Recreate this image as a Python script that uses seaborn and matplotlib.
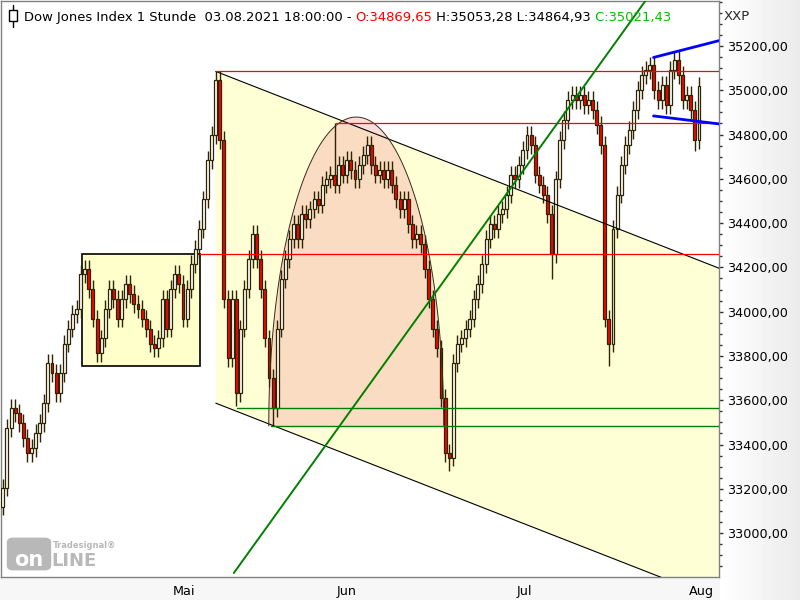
import numpy as np
import pandas as pd
import matplotlib
matplotlib.use("Agg")
import matplotlib.pyplot as plt
from matplotlib.patches import Rectangle, Polygon, FancyBboxPatch
import seaborn as sns

# ---- data (half-day closes, Dow Jones, Apr-Aug 2021) ----
first_open = 33120
closes = [
    33206, 33475, 33565, 33542, 33498, 33430, 33363, 33385, 33453, 33498,
    33587, 33767, 33722, 33632, 33722, 33856, 33924, 33991, 34013, 34170,
    34193, 34103, 33969, 33812, 33879, 34013, 34103, 34058, 33969, 34058,
    34126, 34081, 34036, 34013, 33969, 33924, 33856, 33834, 33879, 34058,
    33924, 34103, 34170, 34126, 33969, 34103, 34215, 34283, 34372, 34507,
    34686, 34799, 35045, 34776, 34058, 33789, 34058, 33632, 33924, 34103,
    34238, 34350, 34238, 34103, 33879, 33699, 33565, 33924, 34148, 34238,
    34327, 34395, 34327, 34440, 34417, 34462, 34507, 34484, 34574, 34597,
    34619, 34574, 34664, 34619, 34686, 34641, 34597, 34664, 34709, 34754,
    34664, 34619, 34641, 34597, 34641, 34574, 34507, 34462, 34507, 34395,
    34327, 34350, 34305, 34193, 34058, 33924, 33834, 33610, 33363, 33341,
    33767, 33856, 33879, 33924, 33969, 34058, 34126, 34215, 34327, 34395,
    34372, 34440, 34462, 34529, 34619, 34597, 34664, 34731, 34799, 34754,
    34619, 34574, 34529, 34440, 34260, 34597, 34776, 34866, 34956, 34978,
    34956, 34978, 34933, 34956, 34911, 34843, 34754, 33969, 33856, 34372,
    34529, 34664, 34754, 34821, 34911, 35000, 35068, 35090, 35112, 35000,
    34956, 35023, 34933, 35090, 35135, 35068, 34956, 34978, 34911, 34776,
    35021,
]
# wick extremes that stick out (bar index -> price)
wick_highs = {52: 35081, 81: 34852, 164: 35150}
wick_lows = {57: 33574, 66: 33484, 109: 33282, 134: 34148, 148: 33753, 169: 34727}

month_days = [21, 41, 63, 84]          # trading-day index of first day of month
month_labels = ["Mai", "Jun", "Jul", "Aug"]
price_ticks = list(range(33000, 35201, 200))

# ---- drawing objects (trading-day, price) ----
box_days = [9.9, 24.3]
box_prices = [33753, 34260]
red_levels = [35085, 34852, 34260]
red_starts = [26.25, 40.9, 24.3]
green_levels = [33565, 33484]
green_starts = [28.9, 33.0]
trend_days = [28.45, 80.0]
trend_prices = [32820, 35470]
channel_days = [26.25, 90.0]
channel_top = [35085, 34163]
channel_bottom = [33587, 32665]
arc_center = (43.4, 33484)
arc_half_width = 10.68
arc_height = 1395
blue_days = [79.7, 87.7]
blue_top = [35148, 35224]
blue_bottom = [34884, 34848]

WICK_PAD = 40
EDGE = "#2e2400"

sns.set_style("white")
plt.rcParams["font.family"] = ["DejaVu Sans"]

fig = plt.figure(figsize=(8, 6), dpi=100)

# background strips (right scale area and bottom date area)
bg = fig.add_axes([0, 0, 1, 1], zorder=-10)
grad = np.ones((600, 800))
grad[:, 720:] = np.linspace(1.0, 0.92, 80)[None, :]
grad[577:, :720] = 0.965
bg.imshow(grad, cmap="gray", vmin=0, vmax=1, aspect="auto", interpolation="bilinear")
bg.axis("off")

ax = fig.add_axes([0.001, 23 / 600, 718 / 800, 576 / 600])
ax.set_facecolor("white")

# channel
ax.add_patch(Polygon([(channel_days[0], channel_top[0]), (channel_days[1], channel_top[1]),
                      (channel_days[1], channel_bottom[1]), (channel_days[0], channel_bottom[0])],
                     closed=True, facecolor="#ffffd6", edgecolor="none", zorder=1))
for ys in (channel_top, channel_bottom):
    ax.plot(channel_days, ys, color="black", lw=0.8, zorder=5)

# half ellipse
theta = np.linspace(0, np.pi, 120)
ex = arc_center[0] + arc_half_width * np.cos(theta)
ey = arc_center[1] + arc_height * np.sin(theta)
ax.fill(ex, ey, color="#f6bab2", alpha=0.5, lw=0, zorder=1.5)
ax.plot(ex, ey, color="#3a2a1a", lw=0.7, zorder=5)

# rectangle
ax.add_patch(Rectangle((box_days[0], box_prices[0]), box_days[1] - box_days[0],
                       box_prices[1] - box_prices[0], facecolor="#ffffcc",
                       edgecolor="black", lw=1.2, zorder=1))

# candles
df = pd.DataFrame({"close": closes})
df["open"] = df["close"].shift(1).fillna(first_open)
df["x"] = 0.25 + 0.5 * np.arange(len(df))
df["high"] = df[["open", "close"]].max(axis=1) + WICK_PAD
df["low"] = df[["open", "close"]].min(axis=1) - WICK_PAD
for k, v in wick_highs.items():
    df.loc[k, "high"] = max(df.loc[k, "high"], v)
for k, v in wick_lows.items():
    df.loc[k, "low"] = min(df.loc[k, "low"], v)
up = df["close"] >= df["open"]
ax.vlines(df["x"], df["low"], df["high"], color=EDGE, lw=1.0, zorder=3)
ax.bar(df["x"], (df["close"] - df["open"]).abs().clip(lower=4),
       bottom=df[["open", "close"]].min(axis=1), width=0.36,
       color=np.where(up, "white", "#ff0000"), edgecolor=EDGE, linewidth=0.9, zorder=4)

# horizontal levels
for lvl, st in zip(red_levels, red_starts):
    ax.plot([st, 90], [lvl, lvl], color="#ff0000", lw=0.9, zorder=5)
for lvl, st in zip(green_levels, green_starts):
    ax.plot([st, 90], [lvl, lvl], color="#008000", lw=1.0, zorder=5)

# trend lines
lines = pd.DataFrame({"day": trend_days, "price": trend_prices})
sns.lineplot(data=lines, x="day", y="price", color="#008000", lw=1.4, sort=False, ax=ax, zorder=6)
sns.lineplot(x=blue_days, y=blue_top, color="#0000ff", lw=2, sort=False, ax=ax, zorder=6)
sns.lineplot(x=blue_days, y=blue_bottom, color="#0000ff", lw=2, sort=False, ax=ax, zorder=6)
ax.set_xlim(0, 87.67)
ax.set_ylim(32802, 35403)
ax.set_xlabel("")
ax.set_ylabel("")

# axes
ax.yaxis.tick_right()
ax.set_yticks(price_ticks)
ax.set_yticklabels([f"{p},00" for p in price_ticks])
ax.set_yticks(np.arange(32850, 35401, 50), minor=True)
ax.tick_params(axis="y", which="major", direction="out", length=3, width=1, pad=3,
               labelsize=9.2, colors="#333333", labelcolor="black")
ax.tick_params(axis="y", which="minor", direction="out", length=2, width=1, colors="#333333")
ax.set_xticks(month_days)
ax.set_xticklabels(month_labels, ha="left")
ax.tick_params(axis="x", direction="out", length=3, width=1, pad=3, labelsize=9.2,
               colors="#333333", labelcolor="black")
for s in ax.spines.values():
    s.set_color("#808080")
    s.set_linewidth(1)

# header
icon = ax.transAxes
ax.plot([12 / 718, 12 / 718], [1 - 4 / 576, 1 - 26 / 576], color="black", lw=1, transform=icon, zorder=7)
ax.add_patch(Rectangle((8 / 718, 1 - 20 / 576), 8 / 718, 11 / 576, transform=icon,
                       facecolor="white", edgecolor="black", lw=1, zorder=8))
pieces = [("Dow Jones Index 1 Stunde  03.08.2021 18:00:00 - ", "black"),
          ("O:34869,65", "#ff0000"),
          (" H:35053,28 L:34864,93", "black"),
          (" C:35021,43", "#00c000")]
t = ax.text(23 / 718, 1 - 20 / 576, pieces[0][0], color=pieces[0][1], fontsize=9.45,
            transform=icon, va="baseline", ha="left", zorder=9)
for txt, col in pieces[1:]:
    t = ax.annotate(txt, xy=(1, 0), xycoords=t, va="bottom", ha="left",
                    color=col, fontsize=9.45, zorder=9)
fig.text(724 / 800, 1 - 20 / 600, "XXP", fontsize=9.5, va="baseline", ha="left")

# watermark logo
fig.patches.append(FancyBboxPatch((10 / 800, 1 - 568 / 600), 38 / 800, 28 / 600,
                                  boxstyle="round,pad=0.004,rounding_size=0.008",
                                  transform=fig.transFigure, facecolor="#b8b8b8",
                                  edgecolor="none", zorder=20))
fig.text(29 / 800, 1 - 566 / 600, "on", color="white", fontsize=15, fontweight="bold",
         ha="center", va="baseline", zorder=21)
fig.text(51 / 800, 1 - 566 / 600, "LINE", color="#b8b8b8", fontsize=13, fontweight="bold",
         ha="left", va="baseline", zorder=21)
fig.text(53 / 800, 1 - 548 / 600, "Tradesignal\u00ae", color="#b8b8b8", fontsize=6,
         fontweight="bold", ha="left", va="baseline", zorder=21)

fig.savefig("out.png", dpi=100)
